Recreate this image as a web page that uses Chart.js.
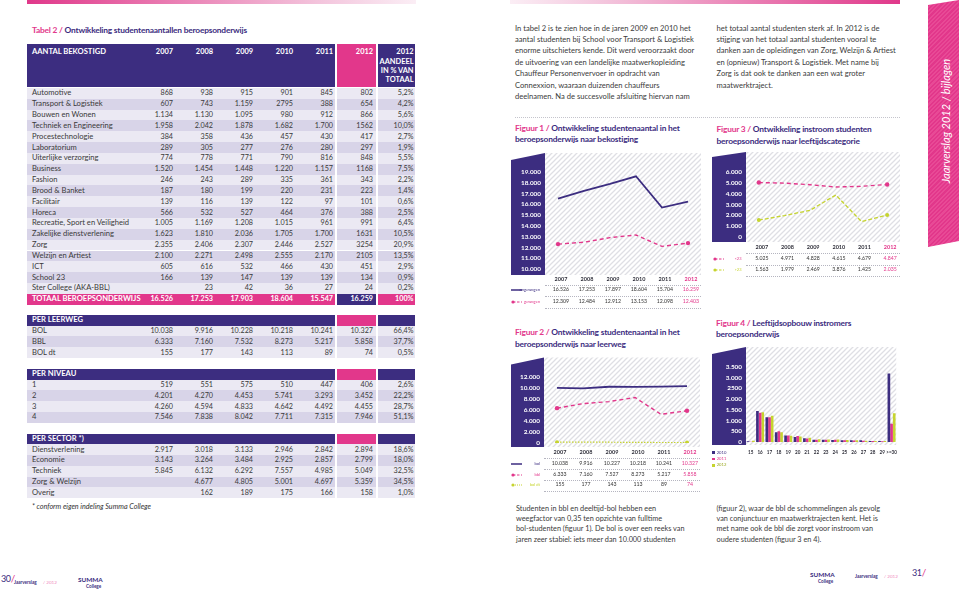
<!DOCTYPE html>
<html lang="nl"><head><meta charset="utf-8"><title>Jaarverslag 2012 - beroepsonderwijs</title>
<script src="https://cdn.jsdelivr.net/npm/chart.js@4.4.1/dist/chart.umd.min.js"></script>
<style>
html,body{margin:0;padding:0;background:#fff;}
#page{position:relative;width:959px;height:595px;overflow:hidden;font-family:Lato,"Open Sans",sans-serif;color:#3a3a3a;}
#page canvas{position:absolute;}
.para{position:absolute;font-size:7.6px;line-height:11.4px;white-space:pre;color:#3b3b3b;}
.ttl{position:absolute;font-size:8.4px;line-height:11.7px;font-weight:bold;white-space:pre;color:#3c2d80;letter-spacing:-0.2px;}
.ttl span{color:#e2378b;}
.pg{position:absolute;font-size:9px;line-height:1;color:#3c2d80;letter-spacing:-0.4px;white-space:nowrap;}
.pg span{color:#e2378b;font-size:10px;}
svg{display:block;}
</style></head><body>
<div id="page">
  <div style="position:absolute;left:27px;top:0;width:389px;height:4px;background:linear-gradient(90deg,#e0388a,#f3c4dc 75%,#fbeef5)"></div>
  <div style="position:absolute;left:510px;top:0;width:390px;height:4px;background:linear-gradient(90deg,#fbeef5,#f3c4dc 25%,#e0388a)"></div>
  <div class="ttl" style="left:32px;top:25px;"><span>Tabel 2 / </span>Ontwikkeling studentenaantallen beroepsonderwijs</div>

  <div class="para" style="left:515px;top:22.6px;">In tabel 2 is te zien hoe in de jaren 2009 en 2010 het
aantal studenten bij School voor Transport &amp; Logistiek
enorme uitschieters kende. Dit werd veroorzaakt door
de uitvoering van een landelijke maatwerkopleiding
Chauffeur Personenvervoer in opdracht van
Connexxion, waaraan duizenden chauffeurs
deelnamen. Na de succesvolle afsluiting hiervan nam</div>
  <div class="para" style="left:716.5px;top:22.6px;">het totaal aantal studenten sterk af. In 2012 is de
stijging van het totaal aantal studenten vooral te
danken aan de opleidingen van Zorg, Welzijn &amp; Artiest
en (opnieuw) Transport &amp; Logistiek. Met name bij
Zorg is dat ook te danken aan een wat groter
maatwerktraject.</div>
  <div style="position:absolute;left:515px;top:117px;width:385px;border-top:1px dotted #c4c4cc;"></div>

  <div class="ttl" style="left:515px;top:122.5px;"><span>Figuur 1 / </span>Ontwikkeling studentenaantal in het</div>
  <div class="ttl" style="left:515px;top:134.2px;">beroepsonderwijs naar bekostiging</div>
  <div class="ttl" style="left:515px;top:327.2px;"><span>Figuur 2 / </span>Ontwikkeling studentenaantal in het</div>
  <div class="ttl" style="left:515px;top:338.9px;">beroepsonderwijs naar leerweg</div>
  <div class="ttl" style="left:716.5px;top:124.2px;"><span>Figuur 3 / </span>Ontwikkeling instroom studenten</div>
  <div class="ttl" style="left:716.5px;top:135.9px;">beroepsonderwijs naar leeftijdscategorie</div>
  <div class="ttl" style="left:716px;top:317.5px;"><span>Figuur 4 / </span>Leeftijdsopbouw instromers</div>
  <div class="ttl" style="left:716px;top:329.2px;">beroepsonderwijs</div>

  <canvas id="c1" width="200" height="142" style="left:505px;top:145px;"></canvas>
  <canvas id="c2" width="200" height="111" style="left:505px;top:350px;"></canvas>
  <canvas id="c3" width="200" height="110" style="left:705px;top:145px;"></canvas>
  <canvas id="c4" width="200" height="123" style="left:705px;top:335px;"></canvas>

  <div class="para" style="left:516px;top:503.9px;line-height:10.2px;font-size:7.3px;">Studenten in bbl en deeltijd-bol hebben een
weegfactor van 0,35 ten opzichte van fulltime
bol-studenten (figuur 1). De bol is over een reeks van
jaren zeer stabiel: iets meer dan 10.000 studenten</div>
  <div class="para" style="left:716.5px;top:503.9px;line-height:10.2px;font-size:7.3px;">(figuur 2), waar de bbl de schommelingen als gevolg
van conjunctuur en maatwerktrajecten kent. Het is
met name ook de bbl die zorgt voor instroom van
oudere studenten (figuur 3 en 4).</div>

  <div class="pg" style="left:1px;top:573px;">30<span>/</span></div>
  <div class="pg" style="left:912px;top:567px;">31<span>/</span></div>

  <div style="position:absolute;left:928px;top:0;width:31px;height:248px;background:repeating-linear-gradient(135deg,#e2378b 0 1.5px,#e84a96 1.5px 3px);clip-path:polygon(0 5px,100% 0,100% 241px,0 247px);"></div>
  <div style="position:absolute;left:945px;top:121px;transform:translate(-50%,-50%) rotate(-90deg);color:#fff;font-style:italic;font-size:11px;white-space:nowrap;">Jaarverslag 2012 / bijlagen</div>
</div>
<script>
// ---------- chart data ----------
const figYears = ['2007', '2008', '2009', '2010', '2011', '2012'];
const fig1Ongewogen = [16526, 17253, 17897, 18604, 15704, 16259];
const fig1Gewogen = [12309, 12484, 12912, 13153, 12098, 12403];
const fig1YLabels = ['10.000', '11.000', '12.000', '13.000', '14.000', '15.000', '16.000', '17.000', '18.000', '19.000'];

const fig2Bol = [10038, 9916, 10227, 10218, 10241, 10327];
const fig2Bbl = [6333, 7160, 7527, 8273, 5217, 5858];
const fig2BolDt = [155, 177, 143, 113, 89, 74];
const fig2YLabels = ['0', '2.000', '4.000', '6.000', '8.000', '10.000', '12.000'];

const fig3Under23 = [5025, 4971, 4828, 4615, 4679, 4847];
const fig3Over23 = [1563, 1979, 2469, 3876, 1425, 2035];
const fig3YLabels = ['0', '1.000', '2.000', '3.000', '4.000', '5.000', '6.000'];

const fig4Ages = ['15', '16', '17', '18', '19', '20', '21', '22', '23', '24', '25', '26', '27', '28', '29', '>=30'];
const fig4Y2010 = [30, 1450, 1150, 450, 300, 230, 180, 100, 100, 90, 80, 80, 80, 50, 50, 3200];
const fig4Y2011 = [15, 1360, 1160, 500, 300, 280, 160, 110, 100, 100, 80, 70, 60, 50, 40, 850];
const fig4Y2012 = [55, 1390, 1230, 460, 290, 260, 200, 130, 120, 120, 90, 80, 60, 50, 50, 1340];
const fig4YLabels = ['0', '500', '1.000', '1.500', '2.000', '2500', '3.000', '3.500'];
const fig4Series = ['2010', '2011', '2012'];

// ---------- table 2 text ----------
const tableHeadYears = ['2007', '2008', '2009', '2010', '2011', '2012'];
const tableHeadPct = ['2012', 'AANDEEL', 'IN % VAN', 'TOTAAL'];
const rowsBekostigd = [
  ['Automotive', '868', '938', '915', '901', '845', '802', '5,2%'],
  ['Transport & Logistiek', '607', '743', '1.159', '2795', '388', '654', '4,2%'],
  ['Bouwen en Wonen', '1.134', '1.130', '1.095', '980', '912', '866', '5,6%'],
  ['Techniek en Engineering', '1.958', '2.042', '1.878', '1.682', '1.700', '1562', '10,0%'],
  ['Procestechnologie', '384', '358', '436', '457', '430', '417', '2,7%'],
  ['Laboratorium', '289', '305', '277', '276', '280', '297', '1,9%'],
  ['Uiterlijke verzorging', '774', '778', '771', '790', '816', '848', '5,5%'],
  ['Business', '1.520', '1.454', '1.448', '1.220', '1.157', '1168', '7,5%'],
  ['Fashion', '246', '243', '289', '335', '361', '343', '2,2%'],
  ['Brood & Banket', '187', '180', '199', '220', '231', '223', '1,4%'],
  ['Facilitair', '139', '116', '139', '122', '97', '101', '0,6%'],
  ['Horeca', '566', '532', '527', '464', '376', '388', '2,5%'],
  ['Recreatie, Sport en Veiligheid', '1.005', '1.169', '1.208', '1.015', '961', '991', '6,4%'],
  ['Zakelijke dienstverlening', '1.623', '1.810', '2.036', '1.705', '1.700', '1631', '10,5%'],
  ['Zorg', '2.355', '2.406', '2.307', '2.446', '2.527', '3254', '20,9%'],
  ['Welzijn en Artiest', '2.100', '2.271', '2.498', '2.555', '2.170', '2105', '13,5%'],
  ['ICT', '605', '616', '532', '466', '430', '451', '2,9%'],
  ['School 23', '166', '139', '147', '139', '139', '134', '0,9%'],
  ['Ster College (AKA-BBL)', '', '23', '42', '36', '27', '24', '0,2%']
];
const rowTotaal = ['TOTAAL BEROEPSONDERWIJS', '16.526', '17.253', '17.903', '18.604', '15.547', '16.259', '100%'];
const rowsLeerweg = [
  ['BOL', '10.038', '9.916', '10.228', '10.218', '10.241', '10.327', '66,4%'],
  ['BBL', '6.333', '7.160', '7.532', '8.273', '5.217', '5.858', '37,7%'],
  ['BOL dt', '155', '177', '143', '113', '89', '74', '0,5%']
];
const rowsNiveau = [
  ['1', '519', '551', '575', '510', '447', '406', '2,6%'],
  ['2', '4.201', '4.270', '4.453', '5.741', '3.293', '3.452', '22,2%'],
  ['3', '4.260', '4.594', '4.833', '4.642', '4.492', '4.455', '28,7%'],
  ['4', '7.546', '7.838', '8.042', '7.711', '7.315', '7.946', '51,1%']
];
const rowsSector = [
  ['Dienstverlening', '2.917', '3.018', '3.133', '2.946', '2.842', '2.894', '18,6%'],
  ['Economie', '3.143', '3.264', '3.484', '2.925', '2.857', '2.799', '18,0%'],
  ['Techniek', '5.845', '6.132', '6.292', '7.557', '4.985', '5.049', '32,5%'],
  ['Zorg & Welzijn', '', '4.677', '4.805', '5.001', '4.697', '5.359', '34,5%'],
  ['Overig', '', '162', '189', '175', '166', '158', '1,0%']
];

// ---------- helpers ----------
const PURPLE = '#3c2d80', PINK = '#e2378b', LIME = '#c6d42f', HATCH = '#dfdfe4';
const LIGHT = '#ebe9f3', DARK = '#d8d4e8';
const TFONT = 7.2, LFONT = 7.6;
const page = document.getElementById('page');
Chart.defaults.font.family = 'Lato';

function fmt(n) { return String(n).replace(/\B(?=(\d{3})+(?!\d))/g, '.'); }
function el(style, txt) {
  const e = document.createElement('div');
  Object.assign(e.style, { position: 'absolute' }, style);
  if (txt != null) e.textContent = txt;
  page.appendChild(e); return e;
}
function box(x, y, w, h, bg) { return el({ left: x + 'px', top: y + 'px', width: w + 'px', height: h + 'px', background: bg }); }
function label(x, y, s, o = {}) {
  const align = o.align || 'left';
  const tx = align === 'right' ? '-100%' : align === 'center' ? '-50%' : '0';
  return el({ left: x + 'px', top: y + 'px', transform: `translate(${tx},-50%)`, fontSize: (o.size || TFONT) + 'px',
    fontWeight: o.weight || 'normal', color: o.color || '#3a3a3a', fontStyle: o.style || 'normal', lineHeight: '1', whiteSpace: 'nowrap',
    letterSpacing: (o.ls || 0) + 'px' }, s);
}

// ---------- table 2 ----------
const COLS = [173, 213, 253, 293, 333, 373, 413.5];
const SEGS = [[27, 308], [337, 39], [378, 37]];
function rowBg(y, h, colors) { SEGS.forEach((s, i) => box(s[0], y, s[1], h, colors[i])); }
function dataRow(r, top, h, bg, txtColor, weight) {
  rowBg(top, h, Array.isArray(bg) ? bg : [bg, bg, bg]);
  const cy = top + h / 2;
  label(32, cy, r[0], { color: txtColor, weight, size: LFONT });
  r.slice(1).forEach((v, j) => { if (v) label(COLS[j], cy, v, { align: 'right', color: txtColor, weight }); });
}
rowBg(44.3, 43, [PURPLE, PINK, PURPLE]);
label(32, 52.3, 'AANTAL BEKOSTIGD', { weight: 'bold', color: '#fff', size: LFONT });
tableHeadYears.forEach((y, i) => label(COLS[i], 52.3, y, { align: 'right', weight: 'bold', color: '#fff', size: 7.4 }));
[52.3, 62.4, 71.2, 80].forEach((y, i) => label(COLS[6], y, tableHeadPct[i], { align: 'right', weight: 'bold', color: '#fff', size: 7.4 }));
const RH = 10.84;
rowsBekostigd.forEach((r, i) => dataRow(r, 87.9 + i * RH, RH, i % 2 ? DARK : LIGHT));
dataRow(rowTotaal, 87.9 + rowsBekostigd.length * RH, RH, [PINK, PURPLE, PINK], '#fff', 'bold');

function section(title, rows, top) {
  rowBg(top, 10.5, [PURPLE, PINK, PURPLE]);
  label(32, top + 5.25, title, { weight: 'bold', color: '#fff', size: LFONT });
  rows.forEach((r, i) => dataRow(r, top + 10.5 + i * 10.8, 10.8, i % 2 ? DARK : LIGHT));
}
section('PER LEERWEG', rowsLeerweg, 315);
section('PER NIVEAU', rowsNiveau, 369);
section('PER SECTOR *)', rowsSector, 433.7);
label(32, 507.3, '* conform eigen indeling Summa College', { style: 'italic', size: 7.2, color: '#333' });

// footers
label(14, 582, 'Jaarverslag', { size: 4.6, weight: 'bold', color: PURPLE });
label(43, 582, '/ 2012', { size: 4.6, color: '#f08cbc' });
label(78, 580, 'SUMMA', { size: 6.4, weight: 'bold', color: PURPLE });
label(86, 586, 'College', { size: 4.6, weight: 'bold', color: PURPLE });
label(810, 575, 'SUMMA', { size: 6.4, weight: 'bold', color: PURPLE });
label(818, 581, 'College', { size: 4.6, weight: 'bold', color: PURPLE });
label(855, 576, 'Jaarverslag', { size: 4.6, weight: 'bold', color: PURPLE });
label(884, 576, '/ 2012', { size: 4.6, color: '#f08cbc' });

// ---------- chart helpers ----------
function hatch(ctx) {
  const c = document.createElement('canvas'); c.width = 5; c.height = 5;
  const g = c.getContext('2d');
  g.strokeStyle = HATCH; g.lineWidth = 1.3;
  g.beginPath();
  g.moveTo(0, 5); g.lineTo(5, 0);
  g.moveTo(-1, 1); g.lineTo(1, -1);
  g.moveTo(4, 6); g.lineTo(6, 4);
  g.stroke();
  return ctx.createPattern(c, 'repeat');
}
const figBg = {
  id: 'figBg',
  beforeDraw(chart, args, o) {
    const { ctx, chartArea: a } = chart;
    const top = a.top - o.above, bottom = a.bottom + o.below;
    ctx.save();
    ctx.fillStyle = hatch(ctx);
    ctx.fillRect(a.left, top, a.right - a.left, bottom - top);
    ctx.fillStyle = PURPLE;
    ctx.beginPath();
    ctx.moveTo(o.blockLeft, top + o.slant);
    ctx.lineTo(a.left, top);
    ctx.lineTo(a.left, bottom);
    ctx.lineTo(o.blockLeft, bottom);
    ctx.closePath(); ctx.fill();
    ctx.restore();
  }
};
function opts(o) {
  return {
    responsive: false, animation: false, devicePixelRatio: 1,
    layout: { padding: o.pad },
    plugins: { legend: { display: false }, tooltip: { enabled: false }, figBg: o.bg },
    datasets: { bar: { categoryPercentage: 0.85, barPercentage: 1 } },
    scales: {
      x: { offset: true, grid: { display: false, drawTicks: false }, border: { display: false },
        ticks: { autoSkip: false, maxRotation: 0, padding: o.xPad, labelOffset: o.labelOffset, font: { size: o.xSize, weight: 'bold' },
          color: (c) => (o.pinkLast && c.index === o.pinkLast) ? PINK : '#2f2f3a' },
        afterFit: (s) => { s.height = o.xH; } },
      y: { min: o.min, max: o.max, grid: { display: false, drawTicks: false }, border: { display: false },
        ticks: { autoSkip: false, stepSize: o.step, padding: 4, color: '#fff', font: { size: 6.4, weight: 'bold' }, callback: (v, i) => o.yLabels[i] },
        afterFit: (s) => { s.width = o.yW; } }
    }
  };
}
const ends = (r) => [r, 0, 0, 0, 0, r];

function icon(x, y, type, color) {
  const dash = type === 'dash' ? 'stroke-dasharray="2.5 1.5"' : type === 'dot' ? 'stroke-dasharray="1 1"' : '';
  const dot = type === 'solid' ? '' : `<circle cx="2" cy="3" r="1.6" fill="${color}"/>`;
  const d = el({ left: x + 'px', top: (y - 3) + 'px', width: '14px', height: '6px', lineHeight: '0' });
  d.innerHTML = `<svg width="14" height="6" xmlns="http://www.w3.org/2000/svg">${dot}<line x1="${type === 'solid' ? 0 : 2}" y1="3" x2="11" y2="3" stroke="${color}" stroke-width="${type === 'solid' ? 1.5 : 1}" ${dash}/></svg>`;
}
function figRows(chart, cl, rows, lineYs, iconX, labelRight) {
  const a = chart.chartArea;
  const xs = chart.data.labels.map((_, i) => cl + chart.scales.x.getPixelForValue(i) + 3);
  lineYs.forEach(y => el({ left: (cl + a.left) + 'px', top: y + 'px', width: (a.right - a.left) + 'px', height: '0', borderTop: '1px dotted #b5b5c0' }));
  rows.forEach(r => {
    icon(iconX, r.y, r.type, r.color);
    label(labelRight, r.y, r.label, { align: 'right', size: 4, color: r.color });
    r.values.forEach((v, i) => label(xs[i], r.y, fmt(v), { align: 'center', size: 5.2, color: i === 5 ? PINK : '#333' }));
  });
}

// ---------- Figuur 1 ----------
const ch1 = new Chart(document.getElementById('c1'), {
  type: 'line',
  data: { labels: figYears, datasets: [
    { label: 'ongewogen', data: fig1Ongewogen, borderColor: PURPLE, borderWidth: 1.8, pointRadius: 0, tension: 0 },
    { label: 'gewogen', data: fig1Gewogen, borderColor: PINK, borderWidth: 1.4, borderDash: [4, 3], pointRadius: ends(2.2), pointBackgroundColor: PINK, pointBorderWidth: 0, tension: 0 }
  ] },
  options: opts({ pad: { left: 6, right: 3, top: 27, bottom: 2 }, yW: 34, xH: 16, xPad: 7, labelOffset: 3, xSize: 5.5, pinkLast: 5,
    min: 10000, max: 19000, step: 1000, yLabels: fig1YLabels, bg: { above: 19, below: 6, slant: 7, blockLeft: 6 } }),
  plugins: [figBg]
});
figRows(ch1, 505, [
  { y: 290.3, label: 'ongewogen', type: 'solid', color: PURPLE, values: fig1Ongewogen },
  { y: 302, label: 'gewogen', type: 'dash', color: PINK, values: fig1Gewogen }
], [284.5, 296, 307.5], 511, 540);

// ---------- Figuur 2 ----------
const ch2 = new Chart(document.getElementById('c2'), {
  type: 'line',
  data: { labels: figYears, datasets: [
    { label: 'bol', data: fig2Bol, borderColor: PURPLE, borderWidth: 1.8, pointRadius: 0, tension: 0 },
    { label: 'bbl', data: fig2Bbl, borderColor: PINK, borderWidth: 1.4, borderDash: [4, 3], pointRadius: ends(2.2), pointBackgroundColor: PINK, pointBorderWidth: 0, tension: 0 },
    { label: 'bol dt', data: fig2BolDt, borderColor: LIME, borderWidth: 1.2, borderDash: [1.5, 1.5], pointRadius: ends(2), pointBackgroundColor: LIME, pointBorderWidth: 0, tension: 0 }
  ] },
  options: opts({ pad: { left: 6, right: 5, top: 27, bottom: 2 }, yW: 33, xH: 16, xPad: 6, labelOffset: 3, xSize: 5.5, pinkLast: 5,
    min: 0, max: 12000, step: 2000, yLabels: fig2YLabels, bg: { above: 19.5, below: 4, slant: 7, blockLeft: 6 } }),
  plugins: [figBg]
});
figRows(ch2, 505, [
  { y: 463.7, label: 'bol', type: 'solid', color: PURPLE, values: fig2Bol },
  { y: 474.5, label: 'bbl', type: 'dash', color: PINK, values: fig2Bbl },
  { y: 485.3, label: 'bol dt', type: 'dot', color: LIME, values: fig2BolDt }
], [458, 469, 480, 491], 511, 540);

// ---------- Figuur 3 ----------
const ch3 = new Chart(document.getElementById('c3'), {
  type: 'line',
  data: { labels: figYears, datasets: [
    { label: '<23', data: fig3Under23, borderColor: PINK, borderWidth: 1.4, borderDash: [4, 3], pointRadius: ends(2.2), pointBackgroundColor: PINK, pointBorderWidth: 0, tension: 0 },
    { label: '>23', data: fig3Over23, borderColor: LIME, borderWidth: 1.3, borderDash: [4, 2], pointRadius: ends(2), pointBackgroundColor: LIME, pointBorderWidth: 0, tension: 0 }
  ] },
  options: opts({ pad: { left: 7, right: 5, top: 27, bottom: 2 }, yW: 34, xH: 16, xPad: 7, labelOffset: 3, xSize: 5.5, pinkLast: 5,
    min: 0, max: 6000, step: 1000, yLabels: fig3YLabels, bg: { above: 20, below: 5, slant: 5, blockLeft: 7 } }),
  plugins: [figBg]
});
figRows(ch3, 705, [
  { y: 259, label: '<23', type: 'dash', color: PINK, values: fig3Under23 },
  { y: 270, label: '>23', type: 'dash', color: LIME, values: fig3Over23 }
], [253, 264.5, 276], 713, 741.5);

// ---------- Figuur 4 ----------
const ch4 = new Chart(document.getElementById('c4'), {
  type: 'bar',
  data: { labels: fig4Ages, datasets: [
    { label: fig4Series[0], data: fig4Y2010, backgroundColor: PURPLE },
    { label: fig4Series[1], data: fig4Y2011, backgroundColor: PINK },
    { label: fig4Series[2], data: fig4Y2012, backgroundColor: LIME }
  ] },
  options: opts({ pad: { left: 7, right: 4, top: 32, bottom: 2 }, yW: 34, xH: 14, xPad: 8, labelOffset: 0, xSize: 4.6, pinkLast: 0,
    min: 0, max: 3500, step: 500, yLabels: fig4YLabels, bg: { above: 20, below: 3, slant: 7, blockLeft: 7 } }),
  plugins: [figBg]
});
[PURPLE, PINK, LIME].forEach((c, i) => {
  const y = [452.7, 459, 465.2][i];
  box(712.3, y - 1.4, 2.8, 2.8, c);
  label(716.7, y, fig4Series[i], { size: 4.2, color: c === LIME ? '#9aa820' : c });
});
</script>
</body></html>
